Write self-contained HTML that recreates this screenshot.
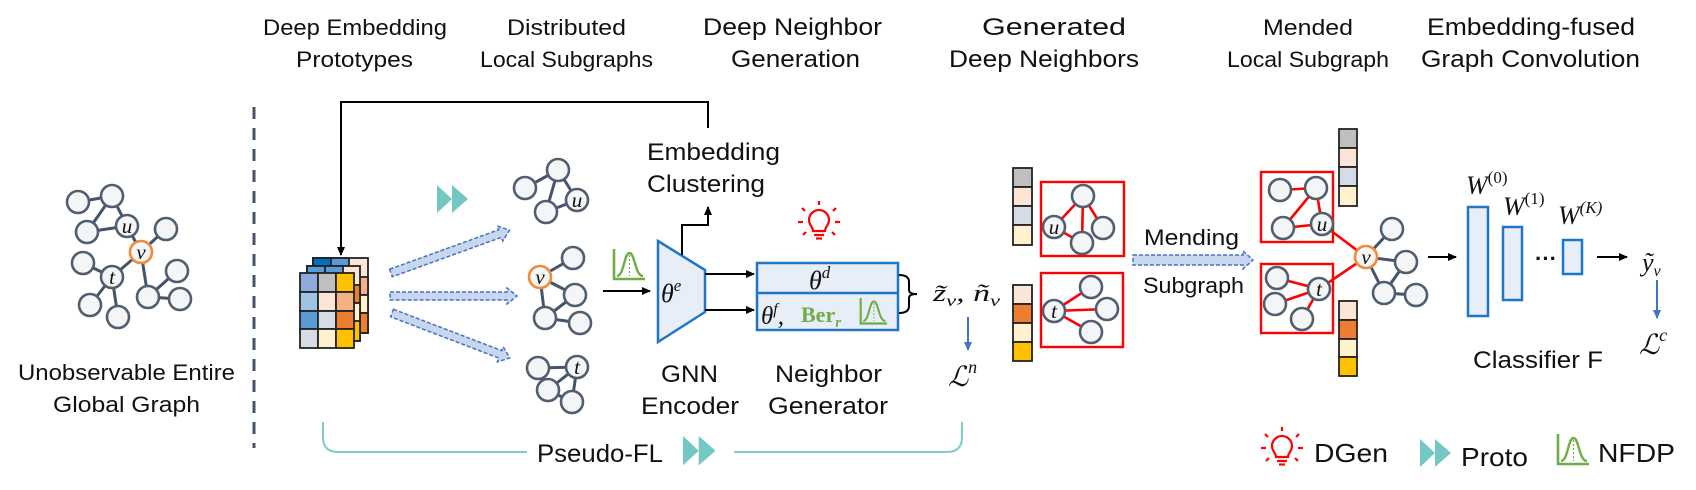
<!DOCTYPE html>
<html><head><meta charset="utf-8"><style>
html,body{margin:0;padding:0;background:#fff;}
svg{display:block;}
.t{font-family:"Liberation Sans",sans-serif;fill:#111;}
.m{font-family:"Liberation Serif","DejaVu Serif",serif;font-style:italic;fill:#111;}
.n{fill:#f4f5f7;stroke:#505e70;stroke-width:2.6;}
.e{stroke:#44546a;stroke-width:3;}
.r{stroke:#ff0000;stroke-width:2.6;}
</style></head><body>
<svg width="1696" height="490" viewBox="0 0 1696 490" xmlns="http://www.w3.org/2000/svg">
<defs>
<marker id="ab" markerWidth="10" markerHeight="10" refX="8" refY="5" orient="auto" markerUnits="userSpaceOnUse"><path d="M0,1 L9,5 L0,9 z" fill="#000"/></marker>
<marker id="abl" markerWidth="10" markerHeight="10" refX="8" refY="5" orient="auto" markerUnits="userSpaceOnUse"><path d="M0,1 L9,5 L0,9 z" fill="#4472c4"/></marker>
<g id="nfdp"><path d="M2,0 L2,30 L33,30" fill="none" stroke="#70ad47" stroke-width="2.6"/><path d="M5,27 C12,27 12,4 17.5,4 C23,4 23,27 31,27" fill="none" stroke="#70ad47" stroke-width="2.4"/><line x1="17.5" y1="6" x2="17.5" y2="27" stroke="#70ad47" stroke-width="1.2" stroke-dasharray="2,2"/></g>
<g id="bulb" fill="none" stroke="#ff0000" stroke-width="2.2"><path d="M-6,6 C-6,2 -10,0 -10,-5 A10,10 0 1 1 10,-5 C10,0 6,2 6,6 Z"/><line x1="-5" y1="10" x2="5" y2="10"/><line x1="-3" y1="13.5" x2="3" y2="13.5"/><line x1="0" y1="-20" x2="0" y2="-24"/><line x1="-14" y1="-14" x2="-17" y2="-17"/><line x1="14" y1="-14" x2="17" y2="-17"/><line x1="-16" y1="-3" x2="-21" y2="-3"/><line x1="16" y1="-3" x2="21" y2="-3"/><line x1="-13" y1="7" x2="-16" y2="10"/><line x1="13" y1="7" x2="16" y2="10"/></g>
<g id="tri" fill="#72c9c3"><path d="M0,0 L0,28 L15,14 Z"/><path d="M15,0 L15,28 L31,14 Z"/></g>
</defs>

<!-- titles -->
<text class="t" x="263" y="35" font-size="22" textLength="184" lengthAdjust="spacingAndGlyphs">Deep Embedding</text>
<text class="t" x="296" y="67" font-size="22" textLength="117" lengthAdjust="spacingAndGlyphs">Prototypes</text>
<text class="t" x="507" y="35" font-size="22" textLength="119" lengthAdjust="spacingAndGlyphs">Distributed</text>
<text class="t" x="480" y="67" font-size="22" textLength="173" lengthAdjust="spacingAndGlyphs">Local Subgraphs</text>
<text class="t" x="703" y="35" font-size="24" textLength="179" lengthAdjust="spacingAndGlyphs">Deep Neighbor</text>
<text class="t" x="731" y="67" font-size="24" textLength="129" lengthAdjust="spacingAndGlyphs">Generation</text>
<text class="t" x="982" y="35" font-size="24" textLength="144" lengthAdjust="spacingAndGlyphs">Generated</text>
<text class="t" x="949" y="67" font-size="24" textLength="190" lengthAdjust="spacingAndGlyphs">Deep Neighbors</text>
<text class="t" x="1263" y="35" font-size="22" textLength="90" lengthAdjust="spacingAndGlyphs">Mended</text>
<text class="t" x="1227" y="67" font-size="22" textLength="162" lengthAdjust="spacingAndGlyphs">Local Subgraph</text>
<text class="t" x="1427" y="35" font-size="24" textLength="208" lengthAdjust="spacingAndGlyphs">Embedding-fused</text>
<text class="t" x="1421" y="67" font-size="24" textLength="219" lengthAdjust="spacingAndGlyphs">Graph Convolution</text>

<!-- left global graph -->
<g class="e">
<line x1="78" y1="202" x2="112" y2="196"/><line x1="112" y1="196" x2="87" y2="232"/><line x1="87" y1="232" x2="127" y2="226"/><line x1="112" y1="196" x2="127" y2="226"/><line x1="127" y1="226" x2="141" y2="252"/><line x1="141" y1="252" x2="166" y2="229"/><line x1="141" y1="252" x2="112" y2="277"/><line x1="112" y1="277" x2="83" y2="263"/><line x1="112" y1="277" x2="90" y2="305"/><line x1="112" y1="277" x2="118" y2="317"/><line x1="141" y1="252" x2="148" y2="297"/><line x1="148" y1="297" x2="177" y2="271"/><line x1="148" y1="297" x2="180" y2="299"/>
</g>
<g class="n"><circle cx="78" cy="202" r="11"/><circle cx="112" cy="196" r="11"/><circle cx="87" cy="232" r="11"/><circle cx="127" cy="226" r="11"/><circle cx="166" cy="229" r="11"/><circle cx="83" cy="263" r="11"/><circle cx="112" cy="277" r="11"/><circle cx="177" cy="271" r="11"/><circle cx="148" cy="297" r="11"/><circle cx="180" cy="299" r="11"/><circle cx="90" cy="305" r="11"/><circle cx="118" cy="317" r="11"/></g>
<circle cx="141" cy="252" r="11" fill="#f4f5f7" stroke="#f08a3c" stroke-width="2.6"/>
<text class="m" x="127" y="233" font-size="21" text-anchor="middle">u</text>
<text class="m" x="141" y="259" font-size="21" text-anchor="middle">v</text>
<text class="m" x="112" y="284" font-size="21" text-anchor="middle">t</text>
<text class="t" x="18" y="380" font-size="22" textLength="217" lengthAdjust="spacingAndGlyphs">Unobservable Entire</text>
<text class="t" x="53" y="412" font-size="22" textLength="147" lengthAdjust="spacingAndGlyphs">Global  Graph</text>

<line x1="254" y1="107" x2="254" y2="448" stroke="#44546a" stroke-width="3" stroke-dasharray="12,9"/>

<polyline points="708,128 708,102 341,102 341,255" fill="none" stroke="#000" stroke-width="2" marker-end="url(#ab)"/>

<!-- matrix stack -->
<g stroke="#222" stroke-width="1.8">
<rect x="313" y="258" width="55" height="75" fill="#fbe5d6"/>
<rect x="313" y="258" width="18" height="8" fill="#0070c0"/><rect x="331" y="258" width="18" height="8" fill="#5b9bd5"/>
<rect x="350" y="277" width="18" height="18" fill="#f4b183"/><rect x="350" y="295" width="18" height="18" fill="#fff2cc"/><rect x="350" y="313" width="18" height="20" fill="#ed7d31"/>
<rect x="307" y="266" width="53" height="75" fill="#fbe5d6"/>
<rect x="307" y="266" width="18" height="8" fill="#5b9bd5"/><rect x="325" y="266" width="18" height="8" fill="#5b9bd5"/>
<rect x="342" y="285" width="18" height="18" fill="#ed7d31"/><rect x="342" y="303" width="18" height="18" fill="#fff2cc"/><rect x="342" y="321" width="18" height="20" fill="#ffc000"/>
<rect x="300" y="273" width="18" height="19" fill="#8eaadb"/><rect x="318" y="273" width="18" height="19" fill="#bfbfbf"/><rect x="336" y="273" width="18" height="19" fill="#ffc000"/>
<rect x="300" y="292" width="18" height="19" fill="#9dc3e6"/><rect x="318" y="292" width="18" height="19" fill="#fbe5d6"/><rect x="336" y="292" width="18" height="19" fill="#f4b183"/>
<rect x="300" y="311" width="18" height="18" fill="#5b9bd5"/><rect x="318" y="311" width="18" height="18" fill="#d6dce5"/><rect x="336" y="311" width="18" height="18" fill="#ed7d31"/>
<rect x="300" y="329" width="18" height="19" fill="#d6dce5"/><rect x="318" y="329" width="18" height="19" fill="#fff2cc"/><rect x="336" y="329" width="18" height="19" fill="#ffc000"/>
</g>

<use href="#tri" x="437" y="185"/>

<g fill="#c9d7ee" stroke="#4472c4" stroke-width="1.5" stroke-dasharray="4,2">
<path transform="translate(391,273) rotate(-19.9)" d="M0,-4 L116,-4 L116,-8 L126,0 L116,8 L116,4 L0,4 Z"/>
<path transform="translate(390,296)" d="M0,-4 L117,-4 L117,-8 L127,0 L117,8 L117,4 L0,4 Z"/>
<path transform="translate(392,313) rotate(20.9)" d="M0,-4 L116,-4 L116,-8 L126,0 L116,8 L116,4 L0,4 Z"/>
<path transform="translate(1133,260)" d="M0,-5 L110,-5 L110,-9 L120,0 L110,9 L110,5 L0,5 Z"/>
</g>

<!-- distributed subgraphs -->
<g class="e">
<line x1="525" y1="188" x2="558" y2="170"/><line x1="558" y1="170" x2="546" y2="212"/><line x1="558" y1="170" x2="577" y2="200"/><line x1="546" y1="212" x2="577" y2="200"/>
<line x1="540" y1="277" x2="573" y2="258"/><line x1="540" y1="277" x2="575" y2="295"/><line x1="540" y1="277" x2="545" y2="318"/><line x1="545" y1="318" x2="575" y2="295"/><line x1="545" y1="318" x2="580" y2="323"/>
<line x1="538" y1="368" x2="577" y2="367"/><line x1="577" y1="367" x2="548" y2="390"/><line x1="577" y1="367" x2="572" y2="402"/><line x1="548" y1="390" x2="572" y2="402"/>
</g>
<g class="n">
<circle cx="525" cy="188" r="11"/><circle cx="558" cy="170" r="11"/><circle cx="546" cy="212" r="11"/><circle cx="577" cy="200" r="11"/>
<circle cx="573" cy="258" r="11"/><circle cx="575" cy="295" r="11"/><circle cx="545" cy="318" r="11"/><circle cx="580" cy="323" r="11"/>
<circle cx="538" cy="368" r="11"/><circle cx="577" cy="367" r="11"/><circle cx="548" cy="390" r="11"/><circle cx="572" cy="402" r="11"/>
</g>
<circle cx="540" cy="277" r="11" fill="#f4f5f7" stroke="#f08a3c" stroke-width="2.6"/>
<text class="m" x="577" y="207" font-size="21" text-anchor="middle">u</text>
<text class="m" x="540" y="284" font-size="21" text-anchor="middle">v</text>
<text class="m" x="577" y="374" font-size="21" text-anchor="middle">t</text>

<use href="#nfdp" x="612" y="249"/>
<line x1="603" y1="291" x2="650" y2="291" stroke="#000" stroke-width="2" marker-end="url(#ab)"/>

<!-- encoder -->
<polygon points="658,241 705,270 705,312 658,342" fill="#e8eef8" stroke="#1f77c4" stroke-width="2.5"/>
<text class="m" x="661" y="302" font-size="26">θ<tspan font-size="17" dy="-11">e</tspan></text>
<polyline points="682,255 682,225 708,225 708,207" fill="none" stroke="#000" stroke-width="2" marker-end="url(#ab)"/>
<text class="t" x="647" y="160" font-size="24" textLength="133" lengthAdjust="spacingAndGlyphs">Embedding</text>
<text class="t" x="647" y="192" font-size="24" textLength="118" lengthAdjust="spacingAndGlyphs">Clustering</text>
<text class="t" x="661" y="382" font-size="24" textLength="57" lengthAdjust="spacingAndGlyphs">GNN</text>
<text class="t" x="641" y="414" font-size="24" textLength="98" lengthAdjust="spacingAndGlyphs">Encoder</text>
<use href="#bulb" x="819" y="225"/>

<line x1="705" y1="274" x2="754" y2="274" stroke="#000" stroke-width="2" marker-end="url(#ab)"/>
<line x1="705" y1="310" x2="754" y2="310" stroke="#000" stroke-width="2" marker-end="url(#ab)"/>
<rect x="757" y="263" width="141" height="67" fill="#e8eef8" stroke="#1f77c4" stroke-width="2.5"/>
<line x1="757" y1="293" x2="898" y2="293" stroke="#1f77c4" stroke-width="2.5"/>
<text class="m" x="809" y="289" font-size="26">θ<tspan font-size="17" dy="-11">d</tspan></text>
<text class="m" x="761" y="324" font-size="25">θ<tspan font-size="16" dy="-10">f</tspan><tspan dy="10">,</tspan></text>
<text x="801" y="322" font-family="Liberation Serif,serif" font-weight="bold" font-size="22" fill="#70ad47">Ber<tspan font-style="italic" font-size="15" dy="5">r</tspan></text>
<g transform="translate(859,298) scale(0.85)"><use href="#nfdp"/></g>
<text class="t" x="775" y="382" font-size="24" textLength="107" lengthAdjust="spacingAndGlyphs">Neighbor</text>
<text class="t" x="768" y="414" font-size="24" textLength="120" lengthAdjust="spacingAndGlyphs">Generator</text>
<path d="M899,275 Q909,275 909,282 L909,290 Q909,294 917,294 Q909,294 909,298 L909,306 Q909,313 899,313" fill="none" stroke="#000" stroke-width="2"/>
<text class="m" x="933" y="301" font-size="24" textLength="67" lengthAdjust="spacingAndGlyphs">z̃<tspan font-size="16" dy="5">v</tspan><tspan dy="-5">, ñ</tspan><tspan font-size="16" dy="5">v</tspan></text>
<line x1="968" y1="317" x2="968" y2="350" stroke="#4472c4" stroke-width="2" marker-end="url(#abl)"/>
<text class="m" x="948" y="386" font-size="28">ℒ<tspan font-size="18" dy="-13">n</tspan></text>

<!-- pseudo-FL -->
<path d="M323,422 L323,437 Q323,452 338,452 L527,452 M734,452 L947,452 Q962,452 962,437 L962,422" fill="none" stroke="#7fcdc8" stroke-width="2"/>
<text class="t" x="537" y="462" font-size="25" textLength="126" lengthAdjust="spacingAndGlyphs">Pseudo-FL</text>
<use href="#tri" transform="translate(683,436) scale(1.05)"/>

<!-- generated deep neighbors -->
<g stroke="#222" stroke-width="1.8">
<rect x="1013" y="168" width="19" height="19" fill="#bfbfbf"/><rect x="1013" y="187" width="19" height="19" fill="#fbe5d6"/><rect x="1013" y="206" width="19" height="19" fill="#d6dce5"/><rect x="1013" y="225" width="19" height="20" fill="#fff2cc"/>
<rect x="1013" y="285" width="19" height="19" fill="#fbe5d6"/><rect x="1013" y="304" width="19" height="19" fill="#ed7d31"/><rect x="1013" y="323" width="19" height="19" fill="#fff2cc"/><rect x="1013" y="342" width="19" height="19" fill="#ffc000"/>
<rect x="1339" y="129" width="18" height="19" fill="#bfbfbf"/><rect x="1339" y="148" width="18" height="19" fill="#fbe5d6"/><rect x="1339" y="167" width="18" height="19" fill="#d6dce5"/><rect x="1339" y="186" width="18" height="20" fill="#fff2cc"/>
<rect x="1339" y="301" width="18" height="19" fill="#fbe5d6"/><rect x="1339" y="320" width="18" height="19" fill="#ed7d31"/><rect x="1339" y="339" width="18" height="18" fill="#fff2cc"/><rect x="1339" y="357" width="18" height="19" fill="#ffc000"/>
</g>
<g fill="none" stroke="#ff0000" stroke-width="2.4">
<rect x="1041" y="182" width="83" height="74"/><rect x="1041" y="273" width="82" height="74"/>
<rect x="1261" y="172" width="72" height="70"/><rect x="1261" y="264" width="72" height="69"/>
</g>
<g class="r">
<line x1="1054" y1="227" x2="1083" y2="196"/><line x1="1083" y1="196" x2="1082" y2="243"/><line x1="1083" y1="196" x2="1103" y2="228"/><line x1="1054" y1="227" x2="1082" y2="243"/>
<line x1="1054" y1="311" x2="1091" y2="287"/><line x1="1054" y1="311" x2="1107" y2="309"/><line x1="1054" y1="311" x2="1091" y2="332"/>
<line x1="1280" y1="190" x2="1316" y2="188"/><line x1="1316" y1="188" x2="1283" y2="228"/><line x1="1316" y1="188" x2="1322" y2="224"/><line x1="1283" y1="228" x2="1322" y2="224"/>
<line x1="1319" y1="289" x2="1277" y2="278"/><line x1="1319" y1="289" x2="1275" y2="304"/><line x1="1319" y1="289" x2="1302" y2="319"/>
<line x1="1322" y1="224" x2="1366" y2="257"/><line x1="1319" y1="289" x2="1366" y2="257"/>
</g>
<g class="e">
<line x1="1366" y1="257" x2="1392" y2="229"/><line x1="1366" y1="257" x2="1406" y2="262"/><line x1="1366" y1="257" x2="1384" y2="293"/><line x1="1384" y1="293" x2="1406" y2="262"/><line x1="1384" y1="293" x2="1416" y2="295"/>
</g>
<g class="n">
<circle cx="1083" cy="196" r="11"/><circle cx="1054" cy="227" r="11"/><circle cx="1103" cy="228" r="11"/><circle cx="1082" cy="243" r="11"/>
<circle cx="1054" cy="311" r="11"/><circle cx="1091" cy="287" r="11"/><circle cx="1107" cy="309" r="11"/><circle cx="1091" cy="332" r="11"/>
<circle cx="1280" cy="190" r="11"/><circle cx="1316" cy="188" r="11"/><circle cx="1283" cy="228" r="11"/><circle cx="1322" cy="224" r="11"/>
<circle cx="1277" cy="278" r="11"/><circle cx="1319" cy="289" r="11"/><circle cx="1275" cy="304" r="11"/><circle cx="1302" cy="319" r="11"/>
<circle cx="1392" cy="229" r="11"/><circle cx="1406" cy="262" r="11"/><circle cx="1384" cy="293" r="11"/><circle cx="1416" cy="295" r="11"/>
</g>
<circle cx="1366" cy="257" r="11" fill="#f4f5f7" stroke="#f08a3c" stroke-width="2.6"/>
<text class="m" x="1054" y="234" font-size="21" text-anchor="middle">u</text>
<text class="m" x="1054" y="318" font-size="21" text-anchor="middle">t</text>
<text class="m" x="1322" y="231" font-size="21" text-anchor="middle">u</text>
<text class="m" x="1319" y="296" font-size="21" text-anchor="middle">t</text>
<text class="m" x="1366" y="264" font-size="21" text-anchor="middle">v</text>
<text class="t" x="1144" y="245" font-size="22" textLength="95" lengthAdjust="spacingAndGlyphs">Mending</text>
<text class="t" x="1143" y="293" font-size="22" textLength="101" lengthAdjust="spacingAndGlyphs">Subgraph</text>

<!-- classifier -->
<line x1="1428" y1="257" x2="1456" y2="257" stroke="#000" stroke-width="2" marker-end="url(#ab)"/>
<g fill="#e8eef8" stroke="#1f77c4" stroke-width="2.5">
<rect x="1468" y="207" width="20" height="109"/><rect x="1503" y="227" width="19" height="73"/><rect x="1563" y="240" width="19" height="34"/>
</g>
<text class="t" x="1535" y="266" font-size="22" font-weight="bold">···</text>
<text class="m" x="1466" y="194" font-size="26">W<tspan font-style="normal" font-size="17" dy="-11">(0)</tspan></text>
<text class="m" x="1503" y="215" font-size="26">W<tspan font-style="normal" font-size="17" dy="-11">(1)</tspan></text>
<text class="m" x="1558" y="224" font-size="26">W<tspan font-size="17" dy="-11">(K)</tspan></text>
<line x1="1597" y1="257" x2="1627" y2="257" stroke="#000" stroke-width="2" marker-end="url(#ab)"/>
<text class="m" x="1642" y="271" font-size="26">ỹ<tspan font-size="16" dy="5">v</tspan></text>
<line x1="1657" y1="280" x2="1657" y2="318" stroke="#4472c4" stroke-width="2" marker-end="url(#abl)"/>
<text class="m" x="1639" y="354" font-size="28">ℒ<tspan font-size="18" dy="-13">c</tspan></text>
<text class="t" x="1473" y="368" font-size="24" textLength="130" lengthAdjust="spacingAndGlyphs">Classifier F</text>

<!-- legend -->
<use href="#bulb" x="1282" y="451"/>
<text class="t" x="1314" y="462" font-size="26" textLength="74" lengthAdjust="spacingAndGlyphs">DGen</text>
<use href="#tri" x="1420" y="439"/>
<text class="t" x="1461" y="466" font-size="26" textLength="67" lengthAdjust="spacingAndGlyphs">Proto</text>
<use href="#nfdp" x="1556" y="434"/>
<text class="t" x="1598" y="462" font-size="26" textLength="77" lengthAdjust="spacingAndGlyphs">NFDP</text>
</svg>
</body></html>
